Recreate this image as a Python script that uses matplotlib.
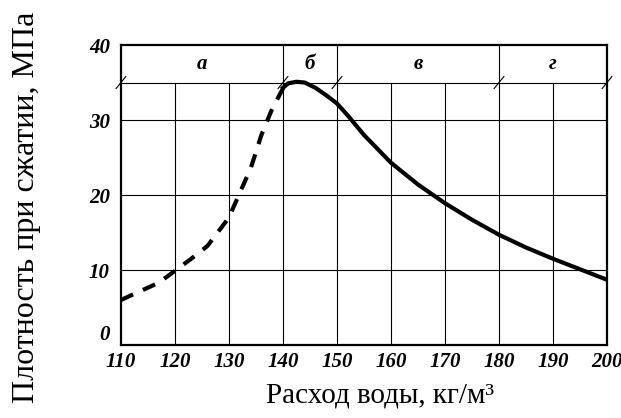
import matplotlib
matplotlib.use("Agg")
import matplotlib.pyplot as plt
import numpy as np

# Data
dash_x = [110, 113, 117, 120, 123, 126, 130, 132, 134, 136, 138, 140]
dash_y = [6.0, 7.0, 8.3, 9.9, 11.5, 13.2, 17.0, 20.3, 23.5, 28.0, 31.5, 34.2]
solid_x = [140, 141, 142.5, 144, 146, 148, 150, 152, 155, 160, 165, 170, 175, 180, 185, 190, 195, 200]
solid_y = [34.3, 34.9, 35.1, 35.0, 34.3, 33.3, 32.2, 30.6, 28.0, 24.3, 21.4, 18.9, 16.7, 14.7, 13.0, 11.5, 10.1, 8.7]
zone_bounds = [110, 140, 150, 180, 200]
zone_labels = ["а", "б", "в", "г"]
x_ticks = [110, 120, 130, 140, 150, 160, 170, 180, 190, 200]
y_ticks = [0, 10, 20, 30, 40]
band_level = 35

serif = ["Liberation Serif", "DejaVu Serif"]

fig = plt.figure(figsize=(6.21, 4.18), dpi=100)
ax = fig.add_axes([0.1948, 0.1746, 0.7827, 0.7177])
ax.set_xlim(110, 200)
ax.set_ylim(0, 40)

# grid below the band
for xv in x_ticks[1:-1]:
    ax.plot([xv, xv], [0, band_level], color="black", lw=0.8, zorder=1)
for yv in [10, 20, 30, band_level]:
    ax.plot([110, 200], [yv, yv], color="black", lw=0.8, zorder=1)
# band dividers
for xv in zone_bounds[1:-1]:
    ax.plot([xv, xv], [band_level, 40], color="black", lw=0.8, zorder=1)
# band labels
for i, lab in enumerate(zone_labels):
    xc = (zone_bounds[i] + zone_bounds[i + 1]) / 2
    ax.text(xc, 37.5, lab, ha="center", va="center", fontsize=15,
            fontstyle="italic", fontweight="bold", family=serif)
# small slanted marks on band boundaries
for xv in zone_bounds:
    ax.plot([xv - 0.9, xv + 0.9], [band_level - 0.8, band_level + 0.8],
            color="black", lw=0.8, zorder=2, clip_on=False)

# curves
ax.plot(dash_x, dash_y, color="black", lw=3, linestyle=(0, (3.2, 2.6)),
        solid_capstyle="butt", dash_capstyle="butt", zorder=3)
ax.plot(solid_x, solid_y, color="black", lw=3, zorder=3)

for s in ax.spines.values():
    s.set_linewidth(1.6)

ax.set_xticks(x_ticks)
ax.set_yticks(y_ticks)
ax.tick_params(axis="x", length=0, pad=5)
ax.tick_params(axis="y", length=0, pad=8)
for lab in ax.get_xticklabels() + ax.get_yticklabels():
    lab.set_family(serif)
    lab.set_fontstyle("italic")
    lab.set_fontweight("bold")
    lab.set_fontsize(15)
# raise the zero label like in the reference
ax.get_yticklabels()[0].set_verticalalignment("bottom")

fig.text(0.612, 0.055, "Расход воды, кг/м³", ha="center", va="center",
         fontsize=21, family=serif)
fig.text(0.043, 0.505, "Плотность при сжатии, МПа", ha="center", va="center",
         rotation=90, fontsize=23, family=serif)

fig.savefig("out.png", dpi=100)
